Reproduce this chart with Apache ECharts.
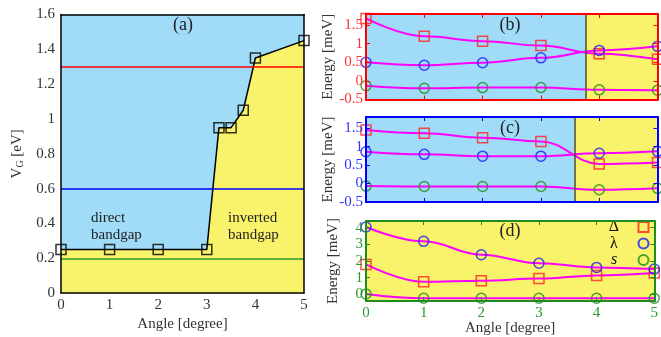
<!DOCTYPE html>
<html><head><meta charset="utf-8">
<script src="https://cdn.jsdelivr.net/npm/echarts@6/dist/echarts.min.js"></script>
<style>html,body{margin:0;padding:0;background:#fff}#c{width:661px;height:337px}</style>
</head><body><div id="c"></div><script>
// ---------- data ----------
const angleA = [0, 1, 2, 3, 3.25, 3.5, 3.75, 4, 5];
const gateA  = [0.25, 0.25, 0.25, 0.25, 0.95, 0.95, 1.05, 1.35, 1.45];
const refLinesA = [1.3, 0.6, 0.2];
const refColorsA = ['#ff0000', '#0000ff', '#2a9a2a'];

const angles = [0, 1, 2, 3, 4, 5];
const deltaB  = [1.68, 1.2, 1.07, 0.95, 0.73, 0.58];
const lambdaB = [0.5, 0.42, 0.49, 0.62, 0.82, 0.93];
const sB      = [-0.13, -0.2, -0.18, -0.18, -0.24, -0.25];
const dividerB = 3.77;

const deltaC  = [1.45, 1.36, 1.24, 1.14, 0.53, 0.57];
const lambdaC = [0.86, 0.79, 0.74, 0.74, 0.82, 0.87];
const sC      = [-0.07, -0.08, -0.08, -0.08, -0.17, -0.13];
const dividerC = 3.58;

const deltaD  = [1.8, 0.76, 0.82, 0.95, 1.14, 1.28];
const lambdaD = [4.04, 3.18, 2.38, 1.87, 1.62, 1.52];
const sD      = [0.03, -0.23, -0.23, -0.23, -0.23, -0.23];

const xTicks = [0, 1, 2, 3, 4, 5];
const yTicksA = [0, 0.2, 0.4, 0.6, 0.8, 1, 1.2, 1.4, 1.6];
const yTicksBC = [-0.5, 0, 0.5, 1, 1.5];
const yTicksD = [0, 1, 2, 3, 4];
const legendNames = ['Δ', 'λ', 's'];

// ---------- style ----------
const FONT = 'Liberation Serif';
const BLUE_BG = '#a0dcf8';
const YELLOW_BG = '#f8f36a';
const MAGENTA = '#ff00ff';
const RED = '#ff2222', BLUEM = '#1a1aff', GREEN = '#1e8c1e';

const zip = (xs, ys) => xs.map((x, i) => [x, ys[i]]);

const grids = [
  {left: 61, top: 14.5, width: 243, height: 289.5, show: true, backgroundColor: BLUE_BG, borderWidth: 0},
  {left: 366, top: 14, width: 291.5, height: 85.5},
  {left: 366, top: 117, width: 291.5, height: 85},
  {left: 366, top: 221, width: 291.5, height: 84.5, show: true, backgroundColor: YELLOW_BG, borderWidth: 0}
];

function makeX(gi, frameColor, frameW, labelColor, showLabels, showTicks, name) {
  const base = {
    gridIndex: gi, type: 'value', min: 0, max: 5, z: 10,
    axisLine: {show: true, onZero: false, lineStyle: {color: frameColor, width: frameW}},
    axisTick: {show: showTicks, inside: true, length: 4, customValues: xTicks, lineStyle: {color: frameColor, width: 1}},
    splitLine: {show: false}
  };
  return [
    Object.assign({}, base, {
      position: 'bottom',
      axisLabel: {show: showLabels, customValues: xTicks, margin: 4, color: labelColor, fontFamily: FONT, fontSize: 15},
      name: name || '', nameLocation: 'middle', nameGap: 17,
      nameTextStyle: {fontFamily: FONT, fontSize: 15, color: '#333', verticalAlign: 'top'}
    }),
    Object.assign({}, base, {position: 'top', axisLabel: {show: false}})
  ];
}

function makeY(gi, min, max, ticks, frameColor, frameW, labelColor, showTicks, name, nameGap, rich, margin) {
  const base = {
    gridIndex: gi, type: 'value', min: min, max: max, z: 10,
    axisLine: {show: true, onZero: false, lineStyle: {color: frameColor, width: frameW}},
    axisTick: {show: showTicks, inside: true, length: 4, customValues: ticks, lineStyle: {color: frameColor, width: 1}},
    splitLine: {show: false}
  };
  return [
    Object.assign({}, base, {
      position: 'left',
      axisLabel: {show: true, customValues: ticks, margin: margin, color: labelColor, fontFamily: FONT, fontSize: 15},
      name: name, nameLocation: 'middle', nameGap: nameGap, nameRotate: 90,
      nameTextStyle: Object.assign({fontFamily: FONT, fontSize: 15, color: '#333'}, rich ? {rich: rich} : {})
    }),
    Object.assign({}, base, {position: 'right', axisLabel: {show: false}})
  ];
}

const xAxes = [].concat(
  makeX(0, '#000', 1.5, '#333', true, false, 'Angle [degree]'),
  makeX(1, '#ff0000', 2, '#ff3333', false, true),
  makeX(2, '#0000ff', 2, '#3333ff', false, true),
  makeX(3, '#1e8c1e', 2, '#2a9a2a', true, true, 'Angle [degree]')
);
const vgRich = {
  n: {fontFamily: FONT, fontSize: 15, color: '#333'},
  s: {fontFamily: FONT, fontSize: 10, color: '#333', padding: [6, 0, 0, 0]}
};
const yAxes = [].concat(
  makeY(0, 0, 1.6, yTicksA, '#000', 1.5, '#333', false, '{n|V}{s|G}{n| [eV]}', 36, vgRich, 6),
  makeY(1, -0.5, 1.8, yTicksBC, '#ff0000', 2, '#ff3333', true, 'Energy [meV]', 25, null, 3),
  makeY(2, -0.5, 1.8, yTicksBC, '#0000ff', 2, '#3333ff', true, 'Energy [meV]', 25, null, 3),
  makeY(3, -0.4, 4.4, yTicksD, '#1e8c1e', 2, '#2a9a2a', true, 'Energy [meV]', 25, null, 3)
);

function marker(name, gi, xs, ys, symbol, color) {
  return {
    name: name, type: 'scatter', xAxisIndex: gi * 2, yAxisIndex: gi * 2, clip: false, z: 5,
    symbol: symbol, symbolSize: 10,
    itemStyle: {color: 'rgba(0,0,0,0)', borderColor: color, borderWidth: 1.5},
    data: zip(xs, ys), silent: true
  };
}
function curve(name, gi, ys, extra) {
  return Object.assign({
    name: name, type: 'line', xAxisIndex: gi * 2, yAxisIndex: gi * 2, z: 3,
    smooth: 0.4, smoothMonotone: 'x', showSymbol: false, silent: true,
    lineStyle: {color: MAGENTA, width: 2}, data: zip(angles, ys)
  }, extra || {});
}
function regions(divider) {
  return {
    markArea: {
      silent: true,
      data: [
        [{xAxis: 0, itemStyle: {color: BLUE_BG}}, {xAxis: divider}],
        [{xAxis: divider, itemStyle: {color: YELLOW_BG}}, {xAxis: 5}]
      ]
    },
    markLine: {
      silent: true, symbol: 'none', label: {show: false},
      lineStyle: {color: '#4d4d2e', width: 1.5, type: 'solid'},
      data: [{xAxis: divider}]
    }
  };
}

const series = [
  // panel (a)
  {type: 'line', xAxisIndex: 0, yAxisIndex: 0, z: 1, silent: true, showSymbol: false,
   lineStyle: {width: 0}, areaStyle: {color: YELLOW_BG, opacity: 1}, data: zip(angleA, gateA)},
  {type: 'line', xAxisIndex: 0, yAxisIndex: 0, z: 3, silent: true, showSymbol: false,
   lineStyle: {color: '#000', width: 1.5}, data: zip(angleA, gateA),
   markLine: {silent: true, symbol: 'none', label: {show: false},
     data: refLinesA.map((v, i) => ({yAxis: v, lineStyle: {color: refColorsA[i], width: 1.5, type: 'solid'}}))}},
  marker('gateA', 0, angleA, gateA, 'rect', '#000'),
  // panel (b)
  curve('cb1', 1, deltaB, regions(dividerB)),
  curve('cb2', 1, lambdaB),
  curve('cb3', 1, sB),
  marker('Δb', 1, angles, deltaB, 'rect', RED),
  marker('λb', 1, angles, lambdaB, 'circle', BLUEM),
  marker('sb', 1, angles, sB, 'circle', GREEN),
  // panel (c)
  curve('cc1', 2, deltaC, regions(dividerC)),
  curve('cc2', 2, lambdaC),
  curve('cc3', 2, sC),
  marker('Δc', 2, angles, deltaC, 'rect', RED),
  marker('λc', 2, angles, lambdaC, 'circle', BLUEM),
  marker('sc', 2, angles, sC, 'circle', GREEN),
  // panel (d)
  curve('cd1', 3, deltaD),
  curve('cd2', 3, lambdaD),
  curve('cd3', 3, sD),
  marker(legendNames[0], 3, angles, deltaD, 'rect', RED),
  marker(legendNames[1], 3, angles, lambdaD, 'circle', BLUEM),
  marker(legendNames[2], 3, angles, sD, 'circle', GREEN)
];

const txt = (x, y, text, size, align, extra) => ({
  type: 'text', x: x, y: y, silent: true, z: 100,
  style: Object.assign({text: text, fontFamily: FONT, fontSize: size, fill: '#222', align: align || 'center', verticalAlign: 'middle'}, extra || {})
});

const option = {
  animation: false,
  grid: grids,
  xAxis: xAxes,
  yAxis: yAxes,
  series: series,
  legend: {
    orient: 'vertical', left: 594.5, top: 219, align: 'right', padding: 0,
    itemWidth: 10, itemHeight: 10, itemGap: 0.5, selectedMode: false,
    data: legendNames,
    formatter: name => (name === 's' ? '{it|' : '{t|') + name + '}',
    textStyle: {
      fontFamily: FONT, fontSize: 16, color: '#111', lineHeight: 16,
      rich: {
        t: {fontFamily: FONT, fontSize: 16, color: '#111', width: 39, align: 'center', lineHeight: 16},
        it: {fontFamily: FONT, fontSize: 16, color: '#111', width: 39, align: 'center', lineHeight: 16, fontStyle: 'italic'}
      }
    }
  },
  graphic: [
    txt(183, 25, '(a)', 18),
    txt(510, 25, '(b)', 18),
    txt(510, 128, '(c)', 18),
    txt(510, 231, '(d)', 18),
    txt(91, 218, 'direct', 15, 'left'),
    txt(91, 235, 'bandgap', 15, 'left'),
    txt(228, 218, 'inverted', 15, 'left'),
    txt(228, 235, 'bandgap', 15, 'left')
  ]
};
const chart = echarts.init(document.getElementById('c'));
chart.setOption(option);
</script></body></html>
